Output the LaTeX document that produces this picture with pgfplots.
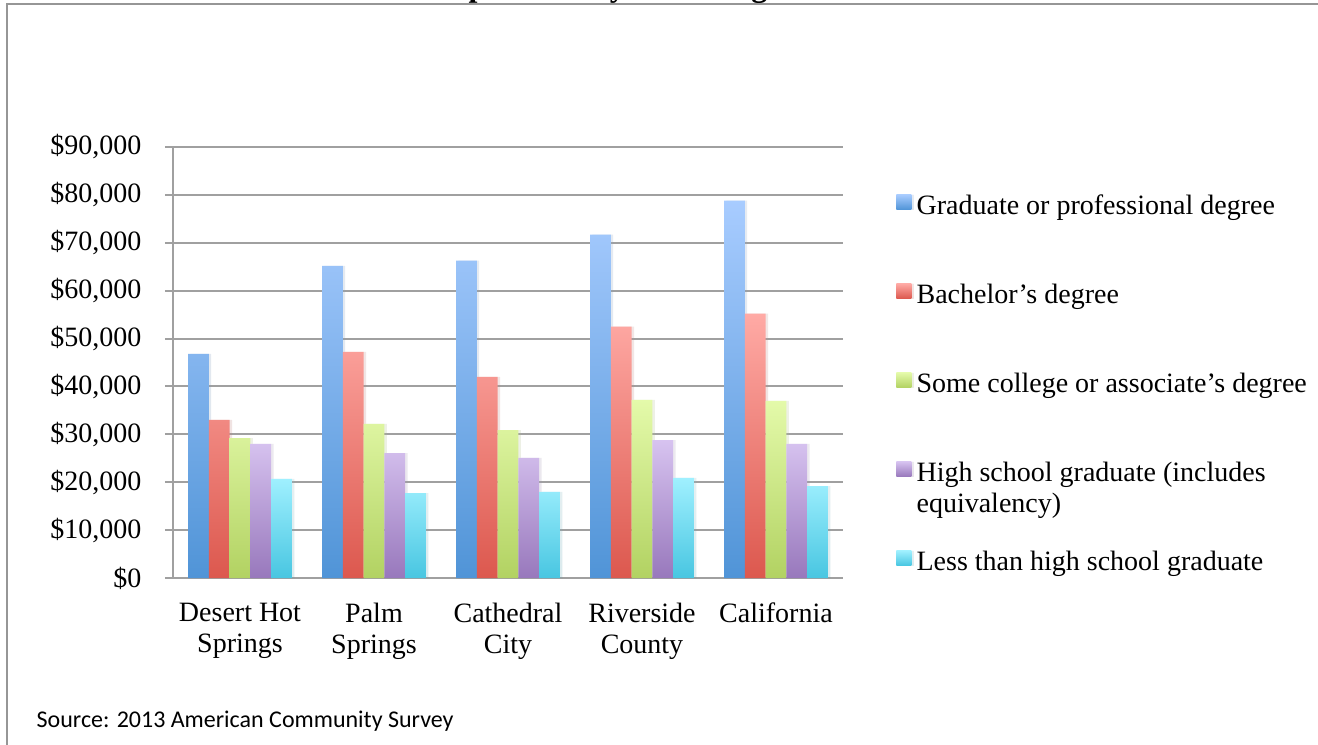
\documentclass[border=0pt]{standalone}
\usepackage{fontspec}
\setmainfont{Liberation Serif}
\newfontfamily\srcfont{Carlito}
\usepackage{pgfplots}
\pgfplotsset{compat=1.18}
\usetikzlibrary{shadows}

\definecolor{gridgray}{RGB}{160,160,160}
\definecolor{framegray}{RGB}{150,150,150}
\definecolor{gradTop}{RGB}{168,204,255}
\definecolor{gradBot}{RGB}{80,148,215}
\definecolor{bachTop}{RGB}{255,170,165}
\definecolor{bachBot}{RGB}{220,88,78}
\definecolor{someTop}{RGB}{228,250,170}
\definecolor{someBot}{RGB}{178,210,98}
\definecolor{highTop}{RGB}{215,195,240}
\definecolor{highBot}{RGB}{152,120,188}
\definecolor{lessTop}{RGB}{160,240,255}
\definecolor{lessBot}{RGB}{72,198,225}

\newcommand{\chartfont}{\fontsize{21}{23.25}\selectfont}

\pgfplotsset{
  barshade/.style 2 args={draw=none, top color=#1, bottom color=#2,
    drop shadow={shadow xshift=1.8pt, shadow yshift=0pt, opacity=0.12}},
}

\begin{document}
\begin{tikzpicture}[x=0.75pt,y=0.75pt]
\useasboundingbox (0,0) rectangle (1318,744);
\clip (0,0) rectangle (1318,744);
% page title, running above the frame
\node[anchor=base, font=\bfseries\fontsize{24}{28}\selectfont] at (474,747)
  {Median Income Comparisons by Schooling};
% chart frame
\draw[framegray, line width=1.5pt] (6.5,-10) -- (6.5,740) -- (1330,740);

\begin{axis}[
  at={(129.75pt,124.5pt)}, anchor=south west,
  width=502.5pt, height=323.25pt, scale only axis,
  xmin=-0.5, xmax=4.5, ymin=0, ymax=90000,
  ybar=0pt, bar width=0.1552,
  axis x line*=bottom, axis y line*=left,
  axis line style={gridgray, line width=1.5pt, -},
  xtick={0,1,2,3,4},
  xticklabels={{Desert Hot\\Springs},{Palm\\Springs},{Cathedral\\City},{Riverside\\County},{California}},
  x tick style={draw=none},
  xticklabel style={align=center, yshift=-9pt},
  ytick={0,10000,20000,30000,40000,50000,60000,70000,80000,90000},
  yticklabels={\$0,{\$10,000},{\$20,000},{\$30,000},{\$40,000},{\$50,000},{\$60,000},{\$70,000},{\$80,000},{\$90,000}},
  scaled y ticks=false,
  yticklabel style={xshift=-14.25pt},
  y tick style={gridgray, line width=1.5pt},
  tick align=outside, major tick length=6pt,
  tick label style={font=\chartfont},
  ymajorgrids, grid style={gridgray, line width=1.5pt},
  legend style={at={(axis description cs:1.0791,0.8910)}, anchor=north west,
    draw=none, fill=none, inner sep=0pt, row sep=46.75pt, column sep=4pt,
    font=\chartfont, nodes={inner sep=0pt, text height=15pt, text depth=5pt}},
  legend cell align=left,
  legend image code/.code={\path[#1] (0pt,-1.5pt) rectangle (11.25pt,9.75pt);},
]
\addplot[barshade={gradTop}{gradBot}] coordinates {(0,46800) (1,65200) (2,66300) (3,71700) (4,78800)};
\addplot[barshade={bachTop}{bachBot}] coordinates {(0,33000) (1,47200) (2,42000) (3,52500) (4,55200)};
\addplot[barshade={someTop}{someBot}] coordinates {(0,29200) (1,32200) (2,30900) (3,37200) (4,37000)};
\addplot[barshade={highTop}{highBot}] coordinates {(0,28000) (1,26100) (2,25100) (3,28800) (4,28000)};
\addplot[barshade={lessTop}{lessBot}] coordinates {(0,20700) (1,17700) (2,18000) (3,20900) (4,19200)};
\legend{Graduate or professional degree,
  Bachelor’s degree,
  Some college or associate’s degree,
  {\parbox[t]{12cm}{High school graduate (includes\\equivalency)}},
  Less than high school graduate}
\end{axis}

\node[anchor=base west, font=\srcfont\fontsize{18}{21}\selectfont] at (32,17)
  {Source: 2013 American Community Survey};
\end{tikzpicture}
\end{document}
